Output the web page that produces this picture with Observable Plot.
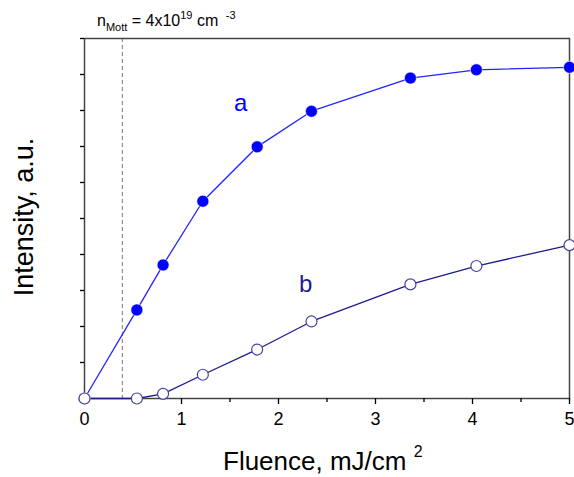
<!DOCTYPE html>
<html><head><meta charset="utf-8">
<script src="https://cdn.jsdelivr.net/npm/d3@7"></script>
<script src="https://cdn.jsdelivr.net/npm/@observablehq/plot@0.6"></script>
<style>
body{margin:0;background:#fff;font-family:Arial,"Liberation Sans",sans-serif}
</style>
</head><body><div id="chart"></div>
<script>
// Data
const fluence    = [0, 0.54, 0.81, 1.22, 1.78, 2.34, 3.36, 4.04, 5.0];
const intensityA = [0, 2.46, 3.71, 5.48, 6.99, 7.98, 8.90, 9.13, 9.20];
const intensityB = [0, 0.00, 0.13, 0.66, 1.36, 2.14, 3.17, 3.68, 4.26];
const xTicks = [0, 1, 2, 3, 4, 5];
const xMinorTicks = [0.5, 1.5, 2.5, 3.5, 4.5];
const yTicks = [0, 1, 2, 3, 4, 5, 6, 7, 8, 9, 10];
const mottFluence = 0.39;
const seriesNames = ["a", "b"];
const seriesLabelX = [1.61, 2.28];
const seriesLabelY = [8.2, 3.18];

const A = fluence.map((x, i) => ({x, y: intensityA[i]}));
const B = fluence.map((x, i) => ({x, y: intensityB[i]}));
const labels = seriesNames.map((t, i) => ({t, x: seriesLabelX[i], y: seriesLabelY[i]}));

const chart = Plot.plot({
  width: 574, height: 477,
  marginLeft: 84, marginRight: 5, marginTop: 38, marginBottom: 79,
  x: {domain: [0, 5]},
  y: {domain: [0, 10]},
  style: {fontFamily: "Arial, 'Liberation Sans', sans-serif", background: "white", color: "black", overflow: "visible"},
  marks: [
    Plot.ruleX([mottFluence], {stroke: "#777", strokeWidth: 1, strokeDasharray: "4,3"}),
    Plot.frame({stroke: "#444", strokeWidth: 1.5}),
    Plot.axisX({ticks: xTicks, tickFormat: "d", tickSize: 6, tickPadding: 8, fontSize: 18, label: null, stroke: "black", strokeWidth: 1.3}),
    Plot.axisX({ticks: xMinorTicks, tickSize: 4, text: null, label: null, stroke: "black", strokeWidth: 1.3}),
    Plot.axisY({ticks: yTicks, tickSize: 4, text: null, label: null, stroke: "black", strokeWidth: 1.3}),
    Plot.lineY(B, {x: "x", y: "y", stroke: "#1c1c8c", strokeWidth: 1.3}),
    Plot.lineY(A, {x: "x", y: "y", stroke: "#2424ff", strokeWidth: 1.3}),
    Plot.dot(A, {x: "x", y: "y", r: 6, fill: "#0000ff", stroke: "white", strokeWidth: 0.6}),
    Plot.dot(B, {x: "x", y: "y", r: 5.5, fill: "white", stroke: "#45459f", strokeWidth: 1.2}),
    Plot.text(labels, {x: "x", y: "y", text: "t", fontSize: 24, fill: (d) => d.t === "a" ? "#0000ff" : "#1c1c8c"})
  ]
});

const svg = d3.select(chart);
// Y axis label
svg.append("text")
  .attr("transform", "translate(33,217) rotate(-90)")
  .attr("text-anchor", "middle")
  .attr("font-size", 27)
  .attr("fill", "black")
  .text("Intensity, a.u.");
// X axis label
const xl = svg.append("text")
  .attr("x", 223).attr("y", 470)
  .attr("text-anchor", "start")
  .attr("font-size", 26)
  .attr("fill", "black");
xl.append("tspan").text("Fluence, mJ/cm ");
xl.append("tspan").attr("font-size", 16).attr("dy", -13).text("2");
// Mott annotation
const an = svg.append("text")
  .attr("x", 97).attr("y", 26)
  .attr("text-anchor", "start")
  .attr("font-size", 16)
  .attr("fill", "black");
an.append("tspan").text("n");
an.append("tspan").attr("font-size", 11).attr("dy", 5).text("Mott");
an.append("tspan").attr("dy", -5).text(" = 4x10");
an.append("tspan").attr("font-size", 11).attr("dy", -7).text("19");
an.append("tspan").attr("dy", 7).text(" cm ");
an.append("tspan").attr("font-size", 11).attr("dy", -7).text(" -3");

document.getElementById("chart").appendChild(chart);
</script>
</body></html>
